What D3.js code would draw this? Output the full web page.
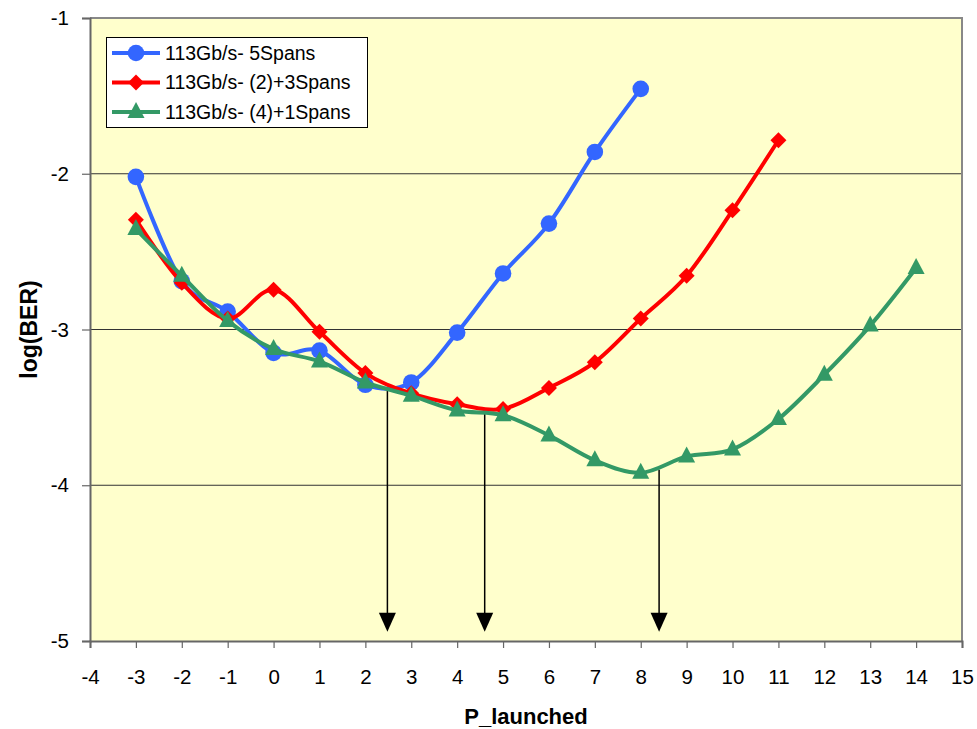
<!DOCTYPE html>
<html>
<head>
<meta charset="utf-8">
<script src="https://cdn.jsdelivr.net/npm/d3@7/dist/d3.min.js"></script>
<style>
  html, body { margin: 0; padding: 0; background: #ffffff; }
  svg { display: block; font-family: "Liberation Sans", Arial, sans-serif; }
</style>
</head>
<body>
<svg id="chart" width="977" height="729"></svg>
<script>
// Launch power (dBm) and measured log(BER) per configuration
const power5 = [-3, -2, -1, 0, 1, 2, 3, 4, 5, 6, 7, 8];
const ber5 = [-2.02, -2.69, -2.885, -3.15, -3.135, -3.355, -3.34, -3.02, -2.64, -2.32, -1.86, -1.455];

const power23 = [-3, -2, -1, 0, 1, 2, 3, 4, 5, 6, 7, 8, 9, 10, 11];
const ber23 = [-2.295, -2.70, -2.93, -2.745, -3.015, -3.28, -3.41, -3.48, -3.51, -3.375, -3.21, -2.93, -2.655, -2.235, -1.785];

const power41 = [-3, -2, -1, 0, 1, 2, 3, 4, 5, 6, 7, 8, 9, 10, 11, 12, 13, 14];
const ber41 = [-2.355, -2.655, -2.945, -3.125, -3.205, -3.34, -3.425, -3.52, -3.55, -3.68, -3.84, -3.92, -3.815, -3.77, -3.575, -3.29, -2.975, -2.605];

const seriesNames = ["113Gb/s- 5Spans", "113Gb/s- (2)+3Spans", "113Gb/s- (4)+1Spans"];

// Optimum launch power markers: x position, start level, end level
const arrowX = [2.48, 4.6, 8.4];
const arrowFrom = [-3.37, -3.54, -3.9];
const arrowTo = -4.94;

const xTicks = d3.range(-4, 16, 1);
const yTicks = [-5, -4, -3, -2, -1];
const gridLevels = [-4, -3, -2];

const margin = { top: 18, right: 15, bottom: 88, left: 90 };
const W = 977, H = 729;
const svg = d3.select("#chart");

const x = d3.scaleLinear().domain([-4, 15]).range([margin.left, W - margin.right]);
const y = d3.scaleLinear().domain([-5, -1]).range([H - margin.bottom, margin.top]);

// plot area
svg.append("rect")
  .attr("x", x(-4)).attr("y", y(-1))
  .attr("width", x(15) - x(-4)).attr("height", y(-5) - y(-1))
  .attr("fill", "#FFFFCC");

// horizontal gridlines
svg.append("g").selectAll("line").data(gridLevels).join("line")
  .attr("x1", x(-4)).attr("x2", x(15))
  .attr("y1", d => y(d)).attr("y2", d => y(d))
  .attr("stroke", "#333").attr("stroke-width", 1);

// top / right frame
svg.append("path")
  .attr("d", `M${x(-4)},${y(-1)}H${x(15)}V${y(-5)}`)
  .attr("fill", "none").attr("stroke", "#888").attr("stroke-width", 2);

// axes
const xAxis = svg.append("g")
  .attr("transform", `translate(0,${y(-5)})`)
  .call(d3.axisBottom(x).tickValues(xTicks).tickFormat(d => String(d)).tickSizeOuter(0).tickSize(7).tickPadding(21));
const yAxis = svg.append("g")
  .attr("transform", `translate(${x(-4)},0)`)
  .call(d3.axisLeft(y).tickValues(yTicks).tickFormat(d => String(d)).tickSizeOuter(0).tickSize(8).tickPadding(13));

[xAxis, yAxis].forEach(g => {
  g.select(".domain").attr("stroke", "#666").attr("stroke-width", 2);
  g.selectAll(".tick line").attr("stroke", "#666").attr("stroke-width", 1.2);
  g.selectAll(".tick text")
    .attr("fill", "#000")
    .style("font-size", "20.5px")
    .style("font-family", "'Liberation Sans', Arial, sans-serif");
});

// axis titles
svg.append("text")
  .attr("x", (x(-4) + x(15)) / 2).attr("y", 724)
  .attr("text-anchor", "middle")
  .style("font-size", "22px").style("font-weight", "bold")
  .text("P_launched");
svg.append("text")
  .attr("transform", `translate(37,${(y(-1) + y(-5)) / 2}) rotate(-90)`)
  .attr("text-anchor", "middle")
  .style("font-size", "23px").style("font-weight", "bold")
  .text("log(BER)");

// arrows
const arrows = arrowX.map((v, i) => ({ x: v, from: arrowFrom[i] }));
const ag = svg.append("g");
arrows.forEach(a => {
  const px = x(a.x);
  const tip = y(arrowTo);
  ag.append("line")
    .attr("x1", px).attr("x2", px)
    .attr("y1", y(a.from)).attr("y2", tip - 16)
    .attr("stroke", "#000").attr("stroke-width", 1.5);
  ag.append("path")
    .attr("d", `M${px - 8.5},${tip - 19}L${px + 8.5},${tip - 19}L${px},${tip}Z`)
    .attr("fill", "#000");
});

// series
const series = [
  { name: seriesNames[0], xs: power5, ys: ber5, color: "#3366FF", marker: "circle" },
  { name: seriesNames[1], xs: power23, ys: ber23, color: "#FF0000", marker: "diamond" },
  { name: seriesNames[2], xs: power41, ys: ber41, color: "#339966", marker: "triangle" }
];

const line = d3.line()
  .x(d => x(d[0])).y(d => y(d[1]))
  .curve(d3.curveCatmullRom.alpha(0));

function drawMarker(g, type, cx, cy, color) {
  if (type === "circle") {
    g.append("circle").attr("cx", cx).attr("cy", cy).attr("r", 8.3).attr("fill", color);
  } else if (type === "diamond") {
    const s = 8;
    g.append("path")
      .attr("d", `M${cx},${cy - s}L${cx + s},${cy}L${cx},${cy + s}L${cx - s},${cy}Z`)
      .attr("fill", color);
  } else {
    g.append("path")
      .attr("d", `M${cx},${cy - 10}L${cx + 8.5},${cy + 6}L${cx - 8.5},${cy + 6}Z`)
      .attr("fill", color);
  }
}

series.forEach(s => {
  const pts = s.xs.map((v, i) => [v, s.ys[i]]);
  const g = svg.append("g");
  g.append("path")
    .attr("d", line(pts))
    .attr("fill", "none").attr("stroke", s.color)
    .attr("stroke-width", 4).attr("stroke-linejoin", "round");
  pts.forEach(p => drawMarker(g, s.marker, x(p[0]), y(p[1]), s.color));
});

// legend
const lg = svg.append("g");
lg.append("rect")
  .attr("x", 106.5).attr("y", 37.5).attr("width", 261).attr("height", 90)
  .attr("fill", "#FFFFFF").attr("stroke", "#000").attr("stroke-width", 1);
series.forEach((s, i) => {
  const cy = 53 + i * 29.5;
  lg.append("line")
    .attr("x1", 112).attr("x2", 160).attr("y1", cy).attr("y2", cy)
    .attr("stroke", s.color).attr("stroke-width", 4);
  drawMarker(lg, s.marker, 136, cy, s.color);
  lg.append("text")
    .attr("x", 165).attr("y", cy).attr("dy", "0.35em")
    .style("font-size", "19.5px")
    .text(s.name);
});
</script>
</body>
</html>
